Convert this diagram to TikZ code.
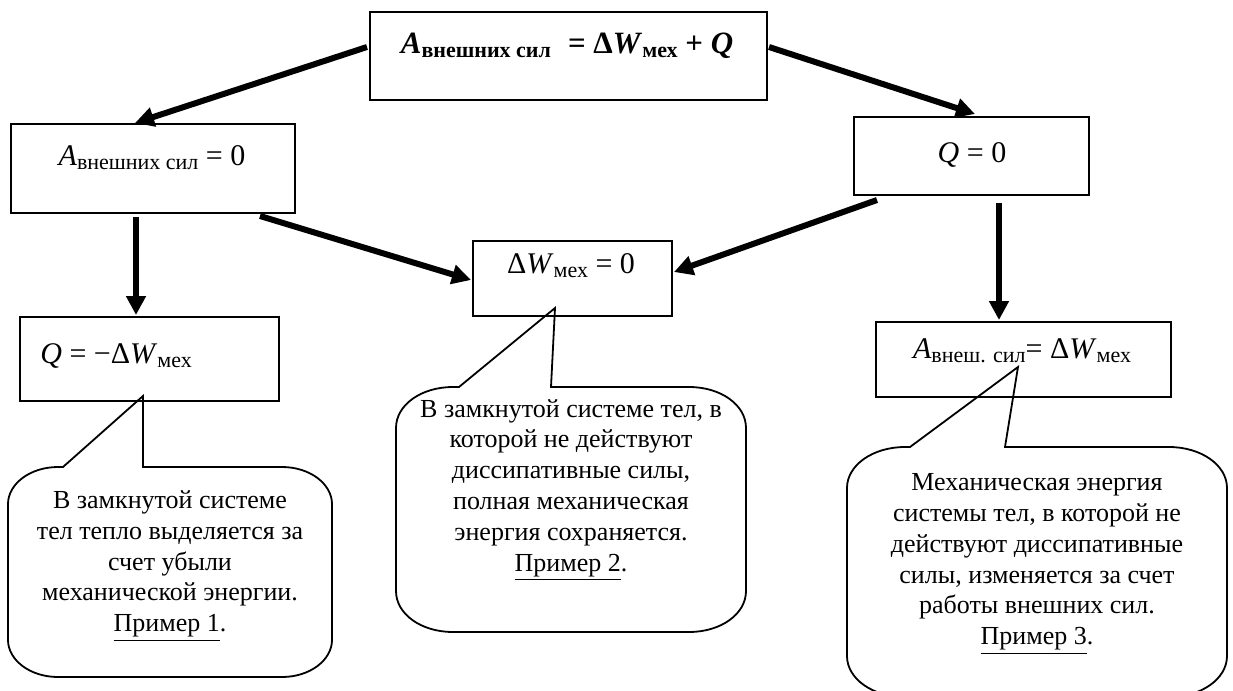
\documentclass[tikz,border=0pt]{standalone}
\usepackage{fontspec}
\setmainfont{Liberation Serif}
\usetikzlibrary{arrows.meta,fit,calc}

\newcommand{\sbs}[1]{\raisebox{-0.35ex}{\fontsize{11pt}{12pt}\selectfont #1}}
\newcommand{\sbb}[1]{\raisebox{-0.35ex}{\fontsize{11pt}{13pt}\selectfont\bfseries #1}}

\begin{document}
\begin{tikzpicture}[x=0.5pt,y=-0.5pt,
  box/.style={draw, line width=1pt, inner sep=0pt},
  arr/.style={line width=3pt, -{Triangle[length=9.5pt,width=9.5pt]}},
  callout/.style={draw, line width=0.9pt},
  eq/.style={anchor=base, inner sep=0pt, font=\fontsize{15pt}{17pt}\selectfont},
  ctext/.style={align=center, inner sep=0pt, font=\fontsize{13pt}{15.4pt}\selectfont}]
\useasboundingbox (0,0) rectangle (1233,691);

% boxes
\node[box, fit={(370,12) (767,100)}] (top) {};
\node[box, fit={(11,124) (295,213)}] (azero) {};
\node[box, fit={(854,117) (1089,195)}] (qzero) {};
\node[box, fit={(473,241) (672,316)}] (dwzero) {};
\node[box, fit={(20,317) (279,401)}] (qneg) {};
\node[box, fit={(876,322) (1171,397)}] (aext) {};

% box texts
\node[eq, font=\fontsize{15.5pt}{19pt}\selectfont\bfseries] (ttop) at (567,53)
  {\textit{A}\sbb{внешних сил}\hspace{0.55em}= Δ\textit{W}\sbb{мех} + \textit{Q}};
\node[eq] (tazero) at (152,165) {\textit{A}\sbs{внешних сил} = 0};
\node[eq] (tqzero) at (972,162) {\textit{Q} = 0};
\node[eq] (tdwzero) at (571,273) {Δ\textit{W}\sbs{мех} = 0};
\node[eq, anchor=base west] (tqneg) at (40,363) {\textit{Q} = −Δ\textit{W}\sbs{мех}};
\node[eq] (taext) at (1022,358) {\textit{A}\sbs{внеш. сил}= Δ\textit{W}\sbs{мех}};

% arrows
\draw[arr] ($(top.west)+(-2,-9)$) -- ($(azero.north)+(-18,0)$);
\draw[arr] ($(top.east)+(1,-9)$) -- ($(qzero.north)+(3.5,-2)$);
\draw[arr] ($(azero.south)+(-17,3)$) -- ($(qneg.north)+(-13.5,-1)$);
\draw[arr] ($(azero.south)+(107,2)$) -- ($(dwzero.west)+(-1,1.5)$);
\draw[arr] ($(qzero.south)+(-94.5,4)$) -- ($(dwzero.east)+(1,-6.5)$);
\draw[arr] ($(qzero.south)+(27.5,7)$) -- ($(aext.north)+(-24.5,-1)$);

% callout 1 (left): L=8 R=332 T=467 B=677 rx=50 ry=37
\draw[callout] (143,396) -- (63,467) -- (58,467)
  .. controls (30,467) and (8,484) .. (8,504) -- (8,640)
  .. controls (8,660) and (30,677) .. (58,677) -- (282,677)
  .. controls (310,677) and (332,660) .. (332,640) -- (332,504)
  .. controls (332,484) and (310,467) .. (282,467) -- (143,467) -- cycle;
\node[ctext] (c1) at (170,566) {В замкнутой системе\\тел тепло выделяется за\\счет убыли\\механической энергии.\\\underline{Пример 1}.};

% callout 2 (centre): L=396 R=746 T=387 B=632 rx=57 ry=41
\draw[callout] (555,308) -- (459,387) -- (453,387)
  .. controls (421,387) and (396,405) .. (396,428) -- (396,591)
  .. controls (396,614) and (421,632) .. (453,632) -- (689,632)
  .. controls (721,632) and (746,614) .. (746,591) -- (746,428)
  .. controls (746,405) and (721,387) .. (689,387) -- (551,387) -- cycle;
\node[ctext] (c2) at (571,490) {В замкнутой системе тел, в\\которой не действуют\\диссипативные силы,\\полная механическая\\энергия сохраняется.\\\underline{Пример 2}.};

% callout 3 (right): L=847 R=1227 T=447 B=697 rx=58 ry=41
\draw[callout] (1018,367) -- (910,447) -- (905,447)
  .. controls (873,447) and (847,465) .. (847,488) -- (847,656)
  .. controls (847,679) and (873,697) .. (905,697) -- (1169,697)
  .. controls (1201,697) and (1227,679) .. (1227,656) -- (1227,488)
  .. controls (1227,465) and (1201,447) .. (1169,447) -- (1005,447) -- cycle;
\node[ctext] (c3) at (1037,564) {Механическая энергия\\системы тел, в которой не\\действуют диссипативные\\силы, изменяется за счет\\работы внешних сил.\\\underline{Пример 3}.};
\end{tikzpicture}
\end{document}
